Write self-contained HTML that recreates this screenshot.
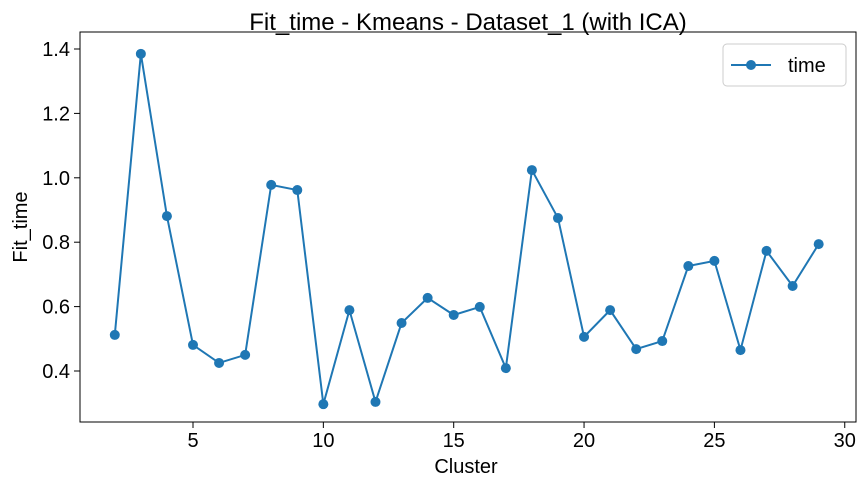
<!DOCTYPE html>
<html><head><meta charset="utf-8"><style>
body{margin:0;background:#fff;}
svg{display:block;font-family:"Liberation Sans","DejaVu Sans",sans-serif;}
</style></head><body>
<svg id="chart" width="868" height="487" xmlns="http://www.w3.org/2000/svg">
<text x="468" y="30" font-size="24" text-anchor="middle" fill="#000">Fit_time - Kmeans - Dataset_1 (with ICA)</text>
<rect x="80" y="32" width="776" height="390" fill="none" stroke="#000" stroke-width="1"/>
<g id="xticks"></g>
<g id="yticks"></g>
<text x="466" y="473" font-size="20" text-anchor="middle">Cluster</text>
<text transform="translate(27,227) rotate(-90)" font-size="20" text-anchor="middle">Fit_time</text>
<g id="series"></g>
<g>
<rect x="723" y="44" width="123" height="42" rx="4" fill="#fff" stroke="#ccc"/>
<line x1="731" y1="65" x2="771" y2="65" stroke="#1f77b4" stroke-width="2"/>
<circle cx="751" cy="65" r="5" fill="#1f77b4"/>
<text x="788" y="72" font-size="20">time</text>
</g>
</svg>
<script>
const clusters=[2,3,4,5,6,7,8,9,10,11,12,13,14,15,16,17,18,19,20,21,22,23,24,25,26,27,28,29];
const times=[0.512,1.385,0.881,0.481,0.425,0.450,0.978,0.962,0.297,0.589,0.304,0.549,0.627,0.574,0.599,0.409,1.024,0.875,0.506,0.589,0.468,0.493,0.726,0.742,0.465,0.773,0.664,0.794];
const xTicks=[5,10,15,20,25,30];
const yTicks=[0.4,0.6,0.8,1.0,1.2,1.4];
const NS="http://www.w3.org/2000/svg";
function xs(v){return 193+(v-5)*26.07;}
function ys(v){return 371-(v-0.4)*322;}
const xg=document.getElementById('xticks'),yg=document.getElementById('yticks'),sg=document.getElementById('series');
xTicks.forEach(t=>{
 const l=document.createElementNS(NS,'line');
 
 
 l.setAttribute('x1',xs(t));l.setAttribute('x2',xs(t));l.setAttribute('y1',422);l.setAttribute('y2',428);l.setAttribute('stroke','#000');
 xg.appendChild(l);
 const tx=document.createElementNS(NS,'text');
 
 
 tx.setAttribute('x',xs(t));tx.setAttribute('y',447);tx.setAttribute('font-size','20');tx.setAttribute('text-anchor','middle');
 tx.textContent=t;xg.appendChild(tx);
});
yTicks.forEach(t=>{
 const l=document.createElementNS(NS,'line');
 
 
 l.setAttribute('x1',74);l.setAttribute('x2',80);l.setAttribute('y1',ys(t));l.setAttribute('y2',ys(t));l.setAttribute('stroke','#000');
 yg.appendChild(l);
 const tx=document.createElementNS(NS,'text');
 
 
 tx.setAttribute('x',70);tx.setAttribute('y',ys(t)+7);tx.setAttribute('font-size','20');tx.setAttribute('text-anchor','end');
 tx.textContent=t.toFixed(1);yg.appendChild(tx);
});
const pl=document.createElementNS(NS,'polyline');


pl.setAttribute('points',clusters.map((c,i)=>xs(c)+','+ys(times[i])).join(' '));
pl.setAttribute('fill','none');pl.setAttribute('stroke','#1f77b4');pl.setAttribute('stroke-width','2');
sg.appendChild(pl);
clusters.forEach((c,i)=>{
 const p=document.createElementNS(NS,'circle');
 
 
 p.setAttribute('cx',xs(c));p.setAttribute('cy',ys(times[i]));p.setAttribute('r',5);p.setAttribute('fill','#1f77b4');
 sg.appendChild(p);
});
</script>
</body></html>
